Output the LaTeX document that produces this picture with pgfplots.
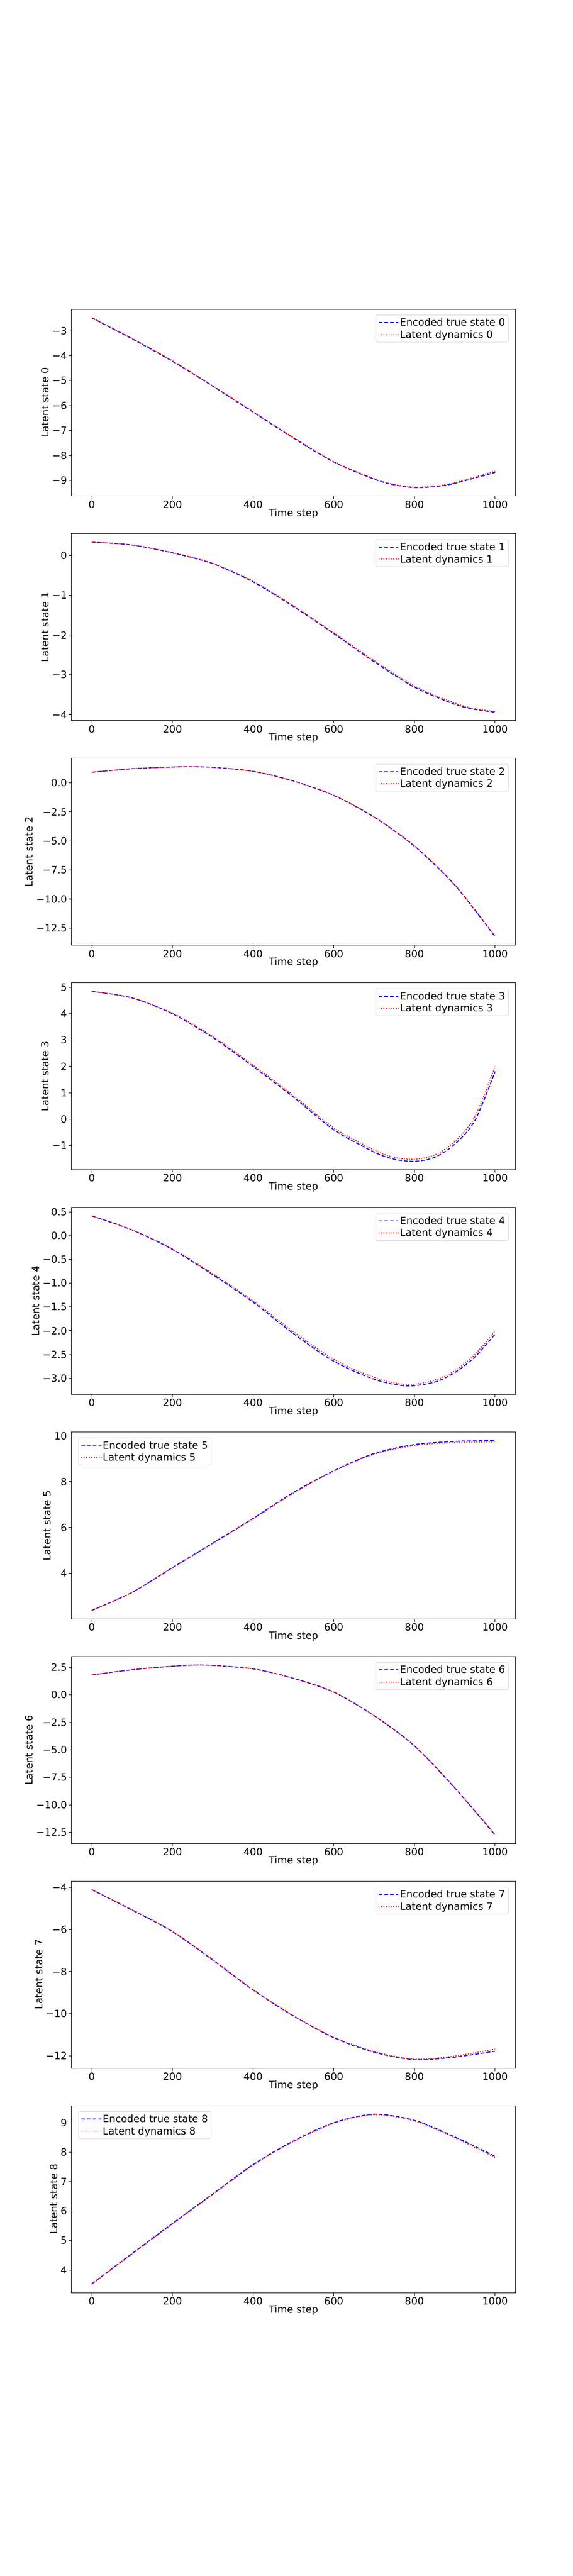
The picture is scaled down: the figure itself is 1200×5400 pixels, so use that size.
\documentclass[border=0pt]{standalone}
\usepackage{fontspec}
\setmainfont{DejaVu Sans}
\usepackage{pgfplots}
\pgfplotsset{compat=1.18}
\pgfplotsset{
 pan/.style={width=930pt,height=392pt,scale only axis,anchor=north west,
  font=\fontsize{21}{25}\selectfont,
  /pgf/number format/assume math mode=true,
  /pgf/number format/1000 sep={},
  xmin=-50,xmax=1050,enlarge y limits=0.05,
  xtick={0,200,400,600,800,1000},
  yticklabel={\pgfmathsetmacro\absv{abs(\tick)}\ifdim\tick pt<-0.0001pt\char"2212\fi\pgfmathprintnumber{\absv}},
  tick align=outside,major tick length=6pt,tick style={black,line width=1.1pt},
  axis line style={line width=1.1pt},
  xtick pos=bottom,ytick pos=left,
  xlabel={Time step},
  xlabel style={yshift=6pt},
  legend cell align=left,
  legend style={font=\fontsize{21}{25}\selectfont,draw=black!15,rounded corners=3pt,line width=1pt,inner sep=5pt,row sep=4pt},
  legend image code/.code={\draw[#1] (0pt,0pt) -- (42pt,0pt);},
 },
 ur/.style={legend style={at={(0.985,0.97)},anchor=north east}},
 ul/.style={legend style={at={(0.015,0.97)},anchor=north west}},
 one/.style={yticklabel style={/pgf/number format/.cd,fixed,fixed zerofill,precision=1}},
 enc/.style={blue,line width=2pt,dash pattern=on 8pt off 4pt,smooth},
 lat/.style={red,line width=2pt,dash pattern=on 2pt off 3.2pt,smooth},
}
\begin{document}
\begin{tikzpicture}
\useasboundingbox (0,0) rectangle (1200pt,-5400pt);
% 0
\begin{axis}[pan,ur,at={(150pt,-648pt)},ylabel={Latent state 0},ytick={-9,-8,-7,-6,-5,-4,-3}]
\addplot[enc] coordinates {(0,-2.48)(100,-3.32)(200,-4.22)(300,-5.22)(400,-6.26)(500,-7.3)(600,-8.26)(700,-8.95)(750,-9.18)(800,-9.29)(850,-9.25)(900,-9.12)(1000,-8.68)};
\addplot[lat] coordinates {(0,-2.47)(100,-3.30)(200,-4.20)(300,-5.20)(400,-6.24)(500,-7.28)(600,-8.24)(700,-8.93)(750,-9.16)(800,-9.27)(850,-9.23)(900,-9.09)(1000,-8.63)};
\legend{Encoded true state 0,Latent dynamics 0}
\end{axis}
% 1
\begin{axis}[pan,ur,at={(150pt,-1118.75pt)},ylabel={Latent state 1},ytick={-4,-3,-2,-1,0}]
\addplot[enc] coordinates {(0,0.34)(100,0.27)(200,0.07)(300,-0.2)(400,-0.66)(500,-1.28)(600,-1.96)(700,-2.67)(800,-3.31)(900,-3.74)(950,-3.87)(1000,-3.94)};
\addplot[lat] coordinates {(0,0.34)(100,0.27)(200,0.08)(300,-0.19)(400,-0.64)(500,-1.26)(600,-1.94)(700,-2.64)(800,-3.28)(900,-3.71)(950,-3.85)(1000,-3.92)};
\legend{Encoded true state 1,Latent dynamics 1}
\end{axis}
% 2
\begin{axis}[pan,ur,one,at={(150pt,-1589.5pt)},ylabel={Latent state 2},ytick={-12.5,-10,-7.5,-5,-2.5,0}]
\addplot[enc] coordinates {(0,0.92)(100,1.22)(200,1.37)(250,1.39)(300,1.34)(400,1.0)(500,0.17)(600,-1.08)(700,-2.95)(800,-5.45)(900,-8.8)(1000,-13.25)};
\addplot[lat] coordinates {(0,0.92)(100,1.22)(200,1.37)(250,1.39)(300,1.34)(400,1.0)(500,0.15)(600,-1.06)(700,-2.92)(800,-5.42)(900,-8.77)(1000,-13.2)};
\legend{Encoded true state 2,Latent dynamics 2}
\end{axis}
% 3
\begin{axis}[pan,ur,at={(150pt,-2060.25pt)},ylabel={Latent state 3},ytick={-1,0,1,2,3,4,5}]
\addplot[enc] coordinates {(0,4.85)(100,4.6)(200,4.0)(300,3.1)(400,2.0)(500,0.84)(600,-0.4)(700,-1.25)(750,-1.52)(800,-1.6)(850,-1.45)(900,-0.95)(950,-0.05)(1000,1.81)};
\addplot[lat] coordinates {(0,4.85)(100,4.6)(200,4.02)(300,3.14)(400,2.05)(500,0.9)(600,-0.33)(700,-1.17)(750,-1.45)(800,-1.52)(850,-1.36)(900,-0.85)(950,0.1)(1000,2.0)};
\legend{Encoded true state 3,Latent dynamics 3}
\end{axis}
% 4
\begin{axis}[pan,ur,one,at={(150pt,-2531pt)},ylabel={Latent state 4},ytick={-3,-2.5,-2,-1.5,-1,-0.5,0,0.5}]
\addplot[enc] coordinates {(0,0.415)(100,0.12)(200,-0.29)(300,-0.82)(400,-1.4)(500,-2.06)(600,-2.64)(700,-3.02)(780,-3.16)(850,-3.08)(900,-2.88)(950,-2.55)(1000,-2.07)};
\addplot[lat] coordinates {(0,0.415)(100,0.12)(200,-0.28)(300,-0.8)(400,-1.37)(500,-2.02)(600,-2.6)(700,-2.98)(780,-3.13)(850,-3.04)(900,-2.84)(950,-2.5)(1000,-2.0)};
\legend{Encoded true state 4,Latent dynamics 4}
\end{axis}
% 5
\begin{axis}[pan,ul,at={(150pt,-3001.75pt)},ylabel={Latent state 5},ytick={2,4,6,8,10}]
\addplot[enc] coordinates {(0,2.38)(100,3.17)(200,4.25)(300,5.32)(400,6.4)(500,7.53)(600,8.48)(700,9.23)(800,9.62)(900,9.76)(1000,9.8)};
\addplot[lat] coordinates {(0,2.38)(100,3.17)(200,4.24)(300,5.3)(400,6.38)(500,7.5)(600,8.46)(700,9.2)(800,9.58)(900,9.71)(1000,9.74)};
\legend{Encoded true state 5,Latent dynamics 5}
\end{axis}
% 6
\begin{axis}[pan,ur,one,at={(150pt,-3472.5pt)},ylabel={Latent state 6},ytick={-12.5,-10,-7.5,-5,-2.5,0,2.5}]
\addplot[enc] coordinates {(0,1.81)(100,2.28)(200,2.6)(280,2.71)(400,2.36)(500,1.5)(600,0.25)(700,-1.9)(800,-4.65)(900,-8.47)(1000,-12.75)};
\addplot[lat] coordinates {(0,1.81)(100,2.28)(200,2.6)(280,2.71)(400,2.36)(500,1.5)(600,0.25)(700,-1.88)(800,-4.63)(900,-8.45)(1000,-12.7)};
\legend{Encoded true state 6,Latent dynamics 6}
\end{axis}
% 7
\begin{axis}[pan,ur,at={(150pt,-3943.25pt)},ylabel={Latent state 7},ytick={-12,-10,-8,-6,-4}]
\addplot[enc] coordinates {(0,-4.11)(100,-5.08)(200,-6.1)(300,-7.45)(400,-8.87)(500,-10.1)(600,-11.13)(700,-11.82)(800,-12.17)(900,-12.05)(1000,-11.77)};
\addplot[lat] coordinates {(0,-4.11)(100,-5.06)(200,-6.08)(300,-7.43)(400,-8.85)(500,-10.08)(600,-11.11)(700,-11.79)(800,-12.14)(900,-12.0)(1000,-11.67)};
\legend{Encoded true state 7,Latent dynamics 7}
\end{axis}
% 8
\begin{axis}[pan,ul,at={(150pt,-4414pt)},ylabel={Latent state 8},ytick={4,5,6,7,8,9}]
\addplot[enc] coordinates {(0,3.53)(100,4.56)(200,5.58)(300,6.58)(400,7.58)(500,8.38)(600,9.0)(700,9.29)(800,9.08)(900,8.52)(1000,7.86)};
\addplot[lat] coordinates {(0,3.52)(100,4.54)(200,5.56)(300,6.56)(400,7.56)(500,8.36)(600,8.98)(700,9.27)(800,9.06)(900,8.49)(1000,7.82)};
\legend{Encoded true state 8,Latent dynamics 8}
\end{axis}
\end{tikzpicture}
\end{document}
